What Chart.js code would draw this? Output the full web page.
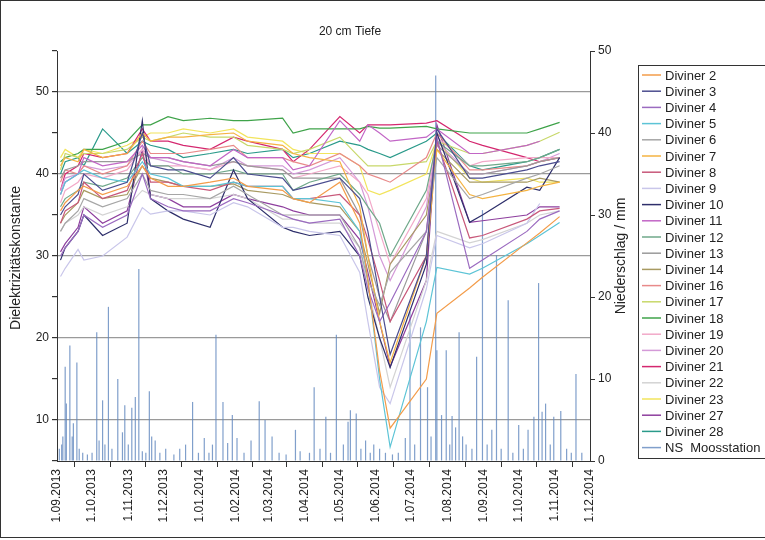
<!DOCTYPE html>
<html>
<head>
<meta charset="utf-8">
<script src="https://cdn.jsdelivr.net/npm/chart.js@4"></script>
<style>
  html, body { margin: 0; padding: 0; background: #fff; overflow: hidden; }
  #wrap { width: 765px; height: 540px; }
</style>
</head>
<body>
<div id="wrap"><canvas id="chart" width="765" height="540"></canvas></div>
<script>
// Tage seit 1.09.2013
const tickDays = [0, 30, 61, 91, 122, 153, 181, 212, 242, 273, 303, 334, 365, 395, 426, 456];
const tickLabels = ['1.09.2013', '1.10.2013', '1.11.2013', '1.12.2013', '1.01.2014', '1.02.2014', '1.03.2014',
  '1.04.2014', '1.05.2014', '1.06.2014', '1.07.2014', '1.08.2014', '1.09.2014', '1.10.2014', '1.11.2014', '1.12.2014'];

const chartTitle = '20 cm Tiefe';
const leftAxisTitle = 'Dielektrizitätskonstante';
const rightAxisTitle = 'Niederschlag / mm';

// Messtermine (Tage seit 1.09.2013)
const measureDays = [3, 7, 18, 23, 39, 60, 73, 80, 95, 108, 131, 151, 163, 193, 202, 216, 242, 259, 266, 276, 285, 316, 325, 353, 364, 402, 413, 430];

const seriesNames = ['Diviner 2', 'Diviner 3', 'Diviner 4', 'Diviner 5', 'Diviner 6', 'Diviner 7', 'Diviner 8', 'Diviner 9',
  'Diviner 10', 'Diviner 11', 'Diviner 12', 'Diviner 13', 'Diviner 14', 'Diviner 16', 'Diviner 17', 'Diviner 18',
  'Diviner 19', 'Diviner 20', 'Diviner 21', 'Diviner 22', 'Diviner 23', 'Diviner 27', 'Diviner 28'];

const seriesColors = ['#f39c4a', '#4b4d8f', '#9b6bc0', '#5cc4d6', '#a6a6a6', '#f5b342', '#c8587a', '#c9c6ea',
  '#2e2f6b', '#c266c6', '#6fa88a', '#9a9a9a', '#a89a62', '#e88a8a', '#c8d86a', '#3fa34a',
  '#f2a9c9', '#d49ad8', '#d4276f', '#d3d3d3', '#f2e45c', '#8e3f9e', '#2a9a8a'];

const d2 = [35.5, 36.5, 38, 38.5, 37.5, 38.5, 41, 39.5, 38.5, 38.5, 39, 39.5, 38.5, 38, 37, 36.5, 39, 34, 27, 16, 9, 15, 23, 26.1, 27.4, 31.6, 32.8, 34.8];
const d3 = [35, 36, 37.5, 40, 38, 39, 45, 41, 40.5, 40.5, 39.5, 42, 40, 39.5, 38, 38.5, 39.5, 37, 33, 25, 18, 30, 45.5, 39.5, 39.5, 40.5, 41, 41.5];
const d4 = [30, 31, 33, 35, 33.5, 35, 40, 37, 36, 35.5, 35.5, 37, 36.5, 35, 34.5, 34, 34.5, 30, 26, 22, 24.3, 33, 44.5, 28.5, 29.5, 33, 34.5, 35.5];
const d5 = [37.5, 39, 40, 40.5, 39.5, 39, 41.5, 40, 39.5, 38.5, 38.5, 39, 38.5, 38.5, 37, 37, 36.5, 33, 27, 15, 6.7, 22, 28.6, 27.8, 28.5, 31.5, 32.5, 34.1];
const d6 = [33, 34, 35.5, 37, 36, 37, 40, 38, 37.5, 37.5, 37, 38.5, 37.5, 35, 35, 35, 35, 31, 27, 24, 28, 33, 42, 37, 37.5, 39.5, 40, 41];
const d7 = [41, 42, 41.5, 43, 42, 42.5, 45, 44, 44.5, 44.5, 44.8, 45, 44, 43.5, 42.5, 42, 41.5, 36, 30, 22, 17, 30, 43, 37.5, 37, 38, 38.5, 39];
const d8 = [34, 35.5, 36.5, 39, 37, 38, 42.5, 39, 39, 38.5, 38, 39, 38.5, 38.5, 37, 37, 37.5, 35, 32, 27, 22, 30, 44, 32.2, 32.5, 34.5, 35.5, 35.8];
const d9 = [27.5, 28.5, 30.8, 29.5, 30, 32.3, 35.9, 35.1, 35.5, 35.5, 35, 36.5, 36, 33.5, 33.5, 33, 32.5, 28, 22, 14, 12, 26, 32.5, 31, 31.5, 34, 36.4, null];
const d10 = [29.5, 31, 33, 35, 32.5, 34, 46.5, 37, 35.5, 34.5, 33.5, 40.5, 37, 33.5, 33, 32.5, 33, 30, 25, 20, 16.4, 29, 45, 34.1, 35, 38.4, 38, 42];
const d11 = [37.5, 39, 40, 42, 41, 41.5, 43.5, 42, 42, 41.5, 41, 43, 42, 42, 40.5, 41, 46.5, 44, 46, 45, 44, 44.5, 45.5, 42.5, 42.5, 43.5, 44, null];
const d12 = [36, 37, 38, 39, 38.5, 39.5, 42, 41, 41, 40, 40, 40.5, 40, 40, 38, 39, 40, 37.5, 36, 34, 30, 38, 44, 41, 41, 41.5, 42, 43];
const d13 = [39.5, 40.5, 41, 41.5, 41.5, 41.5, 42.5, 42, 42, 41.5, 41, 41.5, 41, 40.5, 39.5, 39.5, 39.5, 35, 30, 25, 22, 33, 43.5, 40, 40, 41, 41.5, 42];
const d14 = [34, 35, 36.5, 38, 37, 37.5, 41, 39.5, 39, 38.5, 38.5, 38.8, 38, 37.5, 37, 36.5, 36, 33, 29, 23, 29, 35, 43, 39, 39, 39, 39.5, 39];
const d16 = [39, 40.5, 40, 41, 40, 41, 44, 42.5, 42.5, 42.5, 43, 43.5, 42, 42, 41.5, 41, 42.5, 41, 40, 39.5, 39, 42, 45, 40.5, 40.5, 41, 41.5, 42];
const d17 = [40.5, 42.5, 42, 42.5, 42.5, 43, 44.5, 44, 44.5, 45, 44.5, 44.5, 43.5, 43, 42.5, 43, 44.5, 42, 41, 41, 41, 41.5, 44, 42.5, 42.5, 43.5, 44, 45.1];
const d18 = [41.5, 42, 42.5, 43, 43, 44, 46, 46, 47, 46.5, 46.8, 46.5, 46.5, 46.8, 45, 45.5, 45.5, 45.5, 45.8, 45.6, 45.6, 45.8, 45.5, 45, 45, 45, 45.5, 46.3];
const d19 = [36.5, 38, 39, 40, 39.5, 40.5, 43, 41, 41, 41, 40.5, 41.5, 41, 40.5, 39.5, 40, 41, 39, 37.5, 33, 29, 37, 44.5, 41, 41.5, 42, 42, 42];
const d20 = [38, 39.5, 40, 41, 40.5, 41, 43, 42, 41.5, 41, 40.5, 42, 41, 41, 40, 40.5, 42, 39, 36, 30, 27, 36, 44, 40, 40, 41, 41.5, 42.5];
const d21 = [38, 40, 41, 42.5, 42, 42.5, 45.5, 44, 44, 43.5, 43, 44.5, 44, 43, 41.5, 43, 47, 45, 46, 46, 46, 46.2, 46.5, 44, 43.5, 42, 41.5, 42];
const d22 = [33, 34, 35, 36, 35, 36, 38, 37.5, 37, 37, 37, 37.5, 37, 34.5, 34.5, 34, 34, 31, 26, 20, 14, 27, 33, 31.6, 32, 34, 35, 35.5];
const d23 = [42, 43, 42, 43, 42.5, 43.5, 44.5, 45, 45, 45.5, 45, 45.5, 44.5, 44, 43, 42.5, 42.5, 41, 38, 37.5, 38, 40, 44, 39.5, 39, 39.5, 39, 39];
const d27 = [30.5, 31.5, 33.5, 36, 34, 35.5, 43, 37.5, 37, 36, 36, 37.5, 37, 36, 35.5, 35, 35, 32, 28, 22, 16.5, 27, 46, 34.1, 34.3, 35, 36, 36];
const d28 = [40, 41.5, 42, 41, 45.5, 42.5, 44, 43.5, 43, 42, 42.5, 43, 42.5, 43, 42, 42.5, 44, 43.5, 43, 42.5, 42, 44, 45, 41, 40.5, 41.5, 42, 43];

const seriesValues = [d2, d3, d4, d5, d6, d7, d8, d9, d10, d11, d12, d13, d14, d16, d17, d18, d19, d20, d21, d22, d23, d27, d28];

// Niederschlag Moosstation (Tag, mm)
const precipName = 'NS  Moosstation';
const precipColor = 'rgba(96, 135, 190, 0.8)';
const precipDay = [
  2, 4, 5, 7, 8, 11, 13, 14, 17, 19, 22, 26,
  30, 34, 36, 39, 41, 44, 47, 52, 56, 58,
  61, 64, 67, 70, 73, 76, 79, 81, 84, 88,
  93, 100, 105, 110, 116, 121,
  126, 130, 133, 136, 142, 146, 150,
  154, 160, 166, 173, 178,
  184, 190, 196, 204, 208,
  216, 220, 225, 230, 234, 239,
  245, 249, 251, 256, 260, 264, 268, 271,
  276, 281, 287, 292, 298, 302,
  306, 311, 317, 320, 324, 325, 329, 333,
  336, 338, 341, 344, 347, 350, 355, 359, 364,
  368, 372, 376, 380, 386, 390,
  395, 399, 403, 408, 412, 415, 418, 422, 425,
  431, 436, 440, 444, 449];
const precipMm = [
  1.5, 2, 3, 11.5, 7, 14.1, 3, 4.6, 12, 1.5, 1, 0.8,
  1, 15.7, 2.5, 7.4, 2, 18.8, 1.5, 10, 3.5, 6.8,
  2, 6.5, 7.8, 23.4, 1.2, 1, 8.5, 3, 2.5, 1,
  1.5, 0.8, 1.5, 2, 7.2, 1,
  2.8, 1, 2, 15.4, 7.2, 2.2, 5.6,
  2.8, 1, 2.5, 7.3, 5,
  3, 1, 0.8, 3.8, 1.2,
  1, 9, 1.5, 5.4, 1, 15.4,
  2, 4.8, 6.2, 5.8, 1.5, 2.5, 1, 2,
  1.5, 1, 0.8, 1, 2.8, 18.2,
  2, 16.3, 9, 3, 47, 13.5, 5.6, 13.5,
  2, 5.5, 4.1, 15.7, 3, 2, 1.5, 12.7, 30.6,
  2, 3.8, 25.1, 1.5, 19.6, 1,
  4.4, 1.5, 3.8, 5.4, 21.7, 6, 7, 2, 5.4,
  6.1, 1.5, 1, 10.6, 1];

const fontFamily = '"Liberation Sans", Arial, sans-serif';
const textColor = '#222';
const axisColor = '#333';

const datasets = seriesNames.map((name, i) => ({
    type: 'line',
    label: name,
    data: measureDays.map((d, j) => ({ x: d, y: seriesValues[i][j] })),
    borderColor: seriesColors[i],
    backgroundColor: seriesColors[i],
    borderWidth: 1.2,
    pointRadius: 0,
    tension: 0,
    spanGaps: false,
    yAxisID: 'y',
    order: 0
}));

datasets.push({
    type: 'bar',
    label: precipName,
    data: precipDay.map((d, j) => ({ x: d, y: precipMm[j] })),
    backgroundColor: precipColor,
    borderColor: precipColor,
    borderWidth: 0,
    barThickness: 1.2,
    inflateAmount: 0,
    yAxisID: 'y2',
    order: 1
});

// Titel, Achsentitel, Rahmen und Legende selbst zeichnen
const extras = {
    id: 'extras',
    afterDraw(chart) {
        const ctx = chart.ctx;
        ctx.save();
        ctx.strokeStyle = axisColor;
        ctx.lineWidth = 1;
        ctx.strokeRect(0.5, 0.5, 800, 537);

        ctx.fillStyle = textColor;
        ctx.font = '12px ' + fontFamily;
        ctx.textAlign = 'center';
        ctx.textBaseline = 'middle';
        ctx.fillText(chartTitle, 350, 32);

        ctx.font = '14px ' + fontFamily;
        ctx.save();
        ctx.translate(16, 258);
        ctx.rotate(-Math.PI / 2);
        ctx.fillText(leftAxisTitle, 0, 0);
        ctx.restore();

        ctx.save();
        ctx.translate(621, 256);
        ctx.rotate(-Math.PI / 2);
        ctx.fillText(rightAxisTitle, 0, 0);
        ctx.restore();

        // Legende
        ctx.font = '13px ' + fontFamily;
        ctx.strokeStyle = axisColor;
        ctx.lineWidth = 1;
        ctx.strokeRect(638.5, 65.5, 200, 393);
        ctx.textAlign = 'left';
        chart.data.datasets.forEach((ds, i) => {
            const y = 75 + i * 16.2;
            ctx.strokeStyle = ds.borderColor;
            ctx.lineWidth = 1.5;
            ctx.beginPath();
            ctx.moveTo(642, y);
            ctx.lineTo(661, y);
            ctx.stroke();
            ctx.fillStyle = textColor;
            ctx.fillText(ds.label, 665, y + 1);
        });
        ctx.restore();
    }
};

new Chart(document.getElementById('chart'), {
    type: 'line',
    data: { datasets: datasets },
    plugins: [extras],
    options: {
        responsive: false,
        animation: false,
        layout: { padding: { left: 0, right: 130, top: 51, bottom: 4 } },
        plugins: {
            legend: { display: false },
            title: { display: false },
            tooltip: { enabled: false }
        },
        scales: {
            x: {
                type: 'linear',
                min: 0,
                max: 456,
                offset: false,
                afterBuildTicks: s => { s.ticks = tickDays.map(v => ({ value: v })); },
                afterFit: s => { s.height = 75; },
                ticks: {
                    autoSkip: false,
                    minRotation: 90,
                    maxRotation: 90,
                    padding: 2,
                    color: textColor,
                    font: { size: 12, family: fontFamily },
                    callback: (v, i) => tickLabels[i]
                },
                grid: { drawOnChartArea: false, tickLength: 6, color: axisColor },
                border: { display: true, color: axisColor }
            },
            y: {
                position: 'left',
                min: 5,
                max: 55,
                afterFit: s => { s.width = 57; },
                ticks: {
                    stepSize: 5,
                    color: textColor,
                    font: { size: 12, family: fontFamily },
                    callback: v => (v % 10 === 0 && v <= 50) ? v : ''
                },
                grid: {
                    color: c => (c.tick && c.tick.value % 10 === 0 && c.tick.value <= 50) ? '#9a9a9a' : 'rgba(0,0,0,0)',
                    tickColor: axisColor,
                    tickLength: 5,
                    lineWidth: 1.2
                },
                border: { display: true, color: axisColor }
            },
            y2: {
                position: 'right',
                min: 0,
                max: 50,
                afterFit: s => { s.width = 45; },
                ticks: {
                    stepSize: 10,
                    color: textColor,
                    font: { size: 12, family: fontFamily }
                },
                grid: { drawOnChartArea: false, tickColor: axisColor, tickLength: 5 },
                border: { display: true, color: axisColor }
            }
        }
    }
});
</script>
</body>
</html>
